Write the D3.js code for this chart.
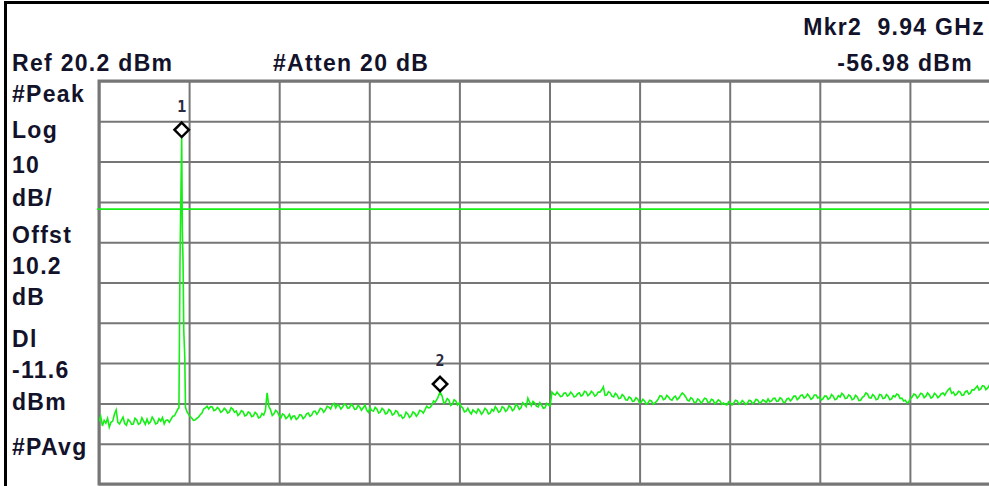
<!DOCTYPE html>
<html><head><meta charset="utf-8">
<script src="https://cdn.jsdelivr.net/npm/d3@7"></script>
<style>
html,body{margin:0;padding:0;background:#fff;overflow:hidden}
svg{display:block}
text.lab{font-family:Arial,"Liberation Sans",sans-serif;font-weight:bold;font-size:23px;letter-spacing:1.3px;fill:#12122a;white-space:pre}
text.mk{font-family:"DejaVu Sans Mono","Liberation Mono",monospace;font-weight:bold;font-size:15px;fill:#2a2a40}
</style></head><body>
<svg id="c" width="989" height="486"></svg>
<script>
// ---- data ----
const refLevelDbm = 20.2;
const dbPerDiv = 10;
const yDivisions = 10;
const xDivisions = 10;
const startGHz = 0;
const stopGHz = 26.26;
const displayLineDbm = -11.6;

const headerTopRight = "Mkr2  9.94 GHz";
const headerRow = ["Ref 20.2 dBm", "#Atten 20 dB", "-56.98 dBm"];
const sideLabels = ["#Peak", "Log", "10", "dB/", "Offst", "10.2", "dB", "Dl", "-11.6", "dBm", "#PAvg"];

const markerIds = ["1", "2"];
const markerGHz = [2.41, 9.94];
const markerDbm = [6.1, -56.98];

// trace: [frequency GHz, level dBm]
const trace = [
[0.0,-64.2],[0.05,-63.0],[0.1,-65.4],[0.15,-64.0],[0.2,-64.7],[0.25,-63.5],[0.3,-65.7],[0.35,-64.5],[0.4,-64.2],[0.45,-62.5],
[0.5,-61.4],[0.55,-64.5],[0.6,-64.9],[0.65,-64.0],[0.7,-63.2],[0.75,-64.8],[0.8,-65.2],[0.85,-63.8],[0.9,-64.2],[0.95,-65.0],
[1.0,-64.9],[1.05,-63.5],[1.1,-63.9],[1.15,-65.0],[1.2,-64.7],[1.25,-63.4],[1.3,-64.2],[1.35,-65.0],[1.4,-63.7],[1.45,-64.8],
[1.5,-64.4],[1.55,-63.2],[1.6,-63.9],[1.65,-64.9],[1.7,-64.7],[1.75,-63.6],[1.8,-64.2],[1.85,-63.3],[1.9,-64.9],[1.95,-64.0],
[2.0,-63.9],[2.05,-64.5],[2.1,-63.7],[2.15,-63.0],[2.2,-62.9],[2.25,-62.0],[2.3,-61.2],[2.33,-60.9],[2.36,-25.0],[2.41,6.1],
[2.43,-17.3],[2.45,-24.7],[2.47,-41.6],[2.50,-48.3],[2.52,-60.7],[2.56,-61.8],
[2.6,-62.4],[2.65,-63.0],[2.7,-63.4],[2.75,-64.0],[2.8,-63.9],[2.85,-63.5],[2.9,-63.2],[2.95,-62.6],[3.0,-62.2],[3.05,-61.2],
[3.1,-60.9],[3.15,-60.5],[3.2,-61.2],[3.25,-60.6],[3.3,-60.7],[3.35,-61.6],[3.4,-61.4],[3.45,-60.8],[3.5,-61.2],[3.55,-62.0],
[3.6,-61.7],[3.65,-61.0],[3.7,-61.4],[3.75,-62.2],[3.8,-61.9],[3.85,-60.9],[3.9,-61.2],[3.95,-62.0],[4.0,-61.7],[4.05,-62.8],
[4.1,-62.4],[4.15,-61.6],[4.2,-61.9],[4.25,-62.9],[4.3,-62.7],[4.35,-61.9],[4.4,-62.2],[4.45,-63.1],[4.5,-62.9],[4.55,-62.0],
[4.6,-62.4],[4.65,-63.4],[4.7,-63.2],[4.75,-62.3],[4.8,-62.7],[4.85,-61.5],[4.9,-57.2],[4.95,-60.5],[5.0,-61.4],[5.05,-62.8],
[5.1,-62.4],[5.15,-61.5],[5.2,-61.9],[5.25,-62.8],[5.3,-63.4],[5.35,-62.4],[5.4,-62.7],[5.45,-63.6],[5.5,-63.2],[5.55,-62.5],
[5.6,-63.7],[5.65,-63.0],[5.7,-62.9],[5.75,-63.8],[5.8,-63.4],[5.85,-62.6],[5.9,-62.7],[5.95,-63.6],[6.0,-63.2],[6.05,-62.4],
[6.1,-62.2],[6.15,-63.0],[6.2,-62.7],[6.25,-61.8],[6.3,-61.7],[6.35,-62.5],[6.4,-61.9],[6.45,-61.0],[6.5,-61.2],[6.55,-62.0],
[6.6,-61.4],[6.65,-60.5],[6.7,-60.7],[6.75,-61.2],[6.8,-60.2],[6.85,-59.8],[6.9,-60.9],[6.95,-60.1],[7.0,-60.4],[7.05,-61.2],
[7.1,-60.7],[7.15,-59.9],[7.2,-60.2],[7.25,-61.0],[7.3,-60.9],[7.35,-60.0],[7.4,-60.4],[7.45,-61.3],[7.5,-61.2],[7.55,-60.3],
[7.6,-60.7],[7.65,-61.5],[7.7,-60.9],[7.75,-60.2],[7.8,-61.4],[7.85,-62.0],[7.9,-60.9],[7.95,-61.6],[8.0,-61.7],[8.05,-60.8],
[8.1,-61.2],[8.15,-62.2],[8.2,-61.9],[8.25,-61.0],[8.3,-61.4],[8.35,-62.4],[8.4,-62.2],[8.45,-61.3],[8.5,-61.7],[8.55,-62.7],
[8.6,-62.4],[8.65,-61.6],[8.7,-61.9],[8.75,-62.9],[8.8,-62.7],[8.85,-63.5],[8.9,-63.2],[8.95,-62.0],[9.0,-62.4],[9.05,-63.3],
[9.1,-62.9],[9.15,-61.9],[9.2,-62.2],[9.25,-63.0],[9.3,-62.4],[9.35,-61.5],[9.4,-61.7],[9.45,-62.2],[9.5,-61.4],[9.55,-60.5],
[9.6,-60.9],[9.65,-60.8],[9.7,-60.2],[9.75,-59.2],[9.8,-59.5],[9.87,-58.5],[9.94,-56.98],[10.0,-58.0],[10.05,-59.8],[10.1,-59.5],
[10.15,-58.6],[10.2,-59.0],[10.25,-60.3],[10.3,-60.0],[10.35,-58.9],[10.4,-59.2],[10.45,-60.2],[10.5,-59.7],[10.55,-60.5],[10.6,-60.9],
[10.65,-61.9],[10.7,-61.7],[10.75,-61.0],[10.8,-61.9],[10.85,-62.4],[10.9,-61.4],[10.95,-61.8],[11.0,-62.2],[11.05,-61.2],[11.1,-61.7],
[11.15,-62.5],[11.2,-61.9],[11.25,-61.0],[11.3,-61.4],[11.35,-62.4],[11.4,-62.2],[11.45,-61.3],[11.5,-61.7],[11.55,-60.6],[11.6,-61.2],
[11.65,-62.0],[11.7,-61.7],[11.75,-60.6],[11.8,-60.9],[11.85,-61.8],[11.9,-61.4],[11.95,-60.4],[12.0,-60.7],[12.05,-61.6],[12.1,-61.2],
[12.15,-60.0],[12.2,-60.4],[12.25,-61.3],[12.3,-60.9],[12.35,-59.6],[12.4,-60.0],[12.45,-60.6],[12.5,-58.5],[12.55,-59.5],[12.6,-60.4],
[12.65,-59.3],[12.7,-59.7],[12.75,-60.5],[12.8,-60.7],[12.85,-59.6],[12.9,-60.2],[12.95,-61.0],[13.0,-60.9],[13.05,-59.8],[13.1,-60.2],
[13.15,-60.4],[13.2,-57.0],[13.25,-57.5],[13.3,-57.7],[13.35,-57.0],[13.4,-57.5],[13.45,-58.1],[13.5,-58.0],[13.55,-57.3],[13.6,-57.2],
[13.65,-58.0],[13.7,-57.7],[13.75,-57.0],[13.8,-57.5],[13.85,-58.2],[13.9,-58.0],[13.95,-57.4],[14.0,-57.2],[14.05,-58.0],[14.1,-57.7],
[14.15,-56.8],[14.2,-57.0],[14.25,-57.9],[14.3,-57.5],[14.35,-56.8],[14.4,-57.2],[14.45,-58.0],[14.5,-57.7],[14.55,-57.0],[14.6,-57.0],
[14.65,-56.5],[14.7,-55.7],[14.75,-57.8],[14.8,-57.7],[14.85,-56.9],[14.9,-57.2],[14.95,-58.0],[15.0,-58.2],[15.05,-57.3],[15.1,-57.7],
[15.15,-58.6],[15.2,-58.5],[15.25,-57.6],[15.3,-58.0],[15.35,-58.9],[15.4,-59.0],[15.45,-58.2],[15.5,-58.5],[15.55,-59.3],[15.6,-59.2],
[15.65,-58.4],[15.7,-58.7],[15.75,-59.6],[15.8,-59.5],[15.85,-58.8],[15.9,-59.2],[15.95,-60.0],[16.0,-59.7],[16.05,-59.0],[16.1,-59.2],
[16.15,-60.0],[16.2,-59.7],[16.25,-59.3],[16.3,-58.7],[16.35,-57.9],[16.4,-58.0],[16.45,-58.9],[16.5,-58.7],[16.55,-57.8],[16.6,-58.2],
[16.65,-58.8],[16.7,-59.0],[16.75,-58.3],[16.8,-58.0],[16.85,-58.9],[16.9,-58.5],[16.95,-57.8],[17.0,-57.2],[17.05,-57.6],[17.1,-58.2],
[17.15,-59.0],[17.2,-59.2],[17.25,-58.4],[17.3,-58.7],[17.35,-59.6],[17.4,-59.5],[17.45,-58.7],[17.5,-59.0],[17.55,-59.8],[17.6,-59.2],
[17.65,-58.5],[17.7,-58.7],[17.75,-59.6],[17.8,-59.5],[17.85,-58.8],[17.9,-59.0],[17.95,-59.9],[18.0,-59.5],[18.05,-58.9],[18.1,-59.2],
[18.15,-60.0],[18.2,-59.7],[18.25,-60.0],[18.3,-60.2],[18.35,-59.4],[18.4,-59.7],[18.45,-60.2],[18.5,-59.7],[18.55,-59.0],[18.6,-59.2],
[18.65,-60.0],[18.7,-59.7],[18.75,-59.1],[18.8,-59.5],[18.85,-60.1],[18.9,-59.7],[18.95,-59.0],[19.0,-59.2],[19.05,-59.9],[19.1,-59.5],
[19.15,-58.8],[19.2,-59.0],[19.25,-59.8],[19.3,-59.5],[19.35,-58.9],[19.4,-59.2],[19.45,-59.6],[19.5,-58.7],[19.55,-59.4],[19.6,-59.2],
[19.65,-58.6],[19.7,-58.5],[19.75,-59.3],[19.8,-59.2],[19.85,-58.4],[19.9,-58.7],[19.95,-59.6],[20.0,-59.5],[20.05,-58.7],[20.1,-58.5],
[20.15,-59.2],[20.2,-58.7],[20.25,-58.0],[20.3,-58.0],[20.35,-58.9],[20.4,-58.5],[20.45,-57.8],[20.5,-57.7],[20.55,-58.5],[20.6,-58.2],
[20.65,-57.5],[20.7,-58.0],[20.75,-58.8],[20.8,-58.5],[20.85,-57.7],[20.9,-57.7],[20.95,-58.5],[21.0,-58.2],[21.05,-59.0],[21.1,-58.7],
[21.15,-58.0],[21.2,-58.0],[21.25,-58.8],[21.3,-58.5],[21.35,-57.6],[21.4,-58.0],[21.45,-58.9],[21.5,-58.7],[21.55,-57.9],[21.6,-58.2],
[21.65,-57.3],[21.7,-57.7],[21.75,-58.6],[21.8,-58.5],[21.85,-57.7],[21.9,-58.0],[21.95,-58.9],[22.0,-58.7],[22.05,-57.8],[22.1,-58.2],
[22.15,-59.1],[22.2,-59.0],[22.25,-58.3],[22.3,-58.0],[22.35,-57.2],[22.4,-57.5],[22.45,-58.4],[22.5,-58.5],[22.55,-57.6],[22.6,-58.0],
[22.65,-58.9],[22.7,-58.7],[22.75,-57.6],[22.8,-57.7],[22.85,-58.6],[22.9,-58.5],[22.95,-57.6],[23.0,-58.0],[23.05,-58.9],[23.1,-58.7],
[23.15,-57.9],[23.2,-58.2],[23.25,-57.5],[23.3,-57.7],[23.35,-58.6],[23.4,-58.5],[23.45,-59.2],[23.5,-59.0],[23.55,-59.7],[23.6,-59.5],
[23.65,-58.6],[23.7,-58.2],[23.75,-57.5],[23.8,-57.7],[23.85,-58.5],[23.9,-58.0],[23.95,-57.3],[24.0,-57.5],[24.05,-58.4],[24.1,-58.0],
[24.15,-57.2],[24.2,-57.7],[24.25,-58.5],[24.3,-58.2],[24.35,-57.3],[24.4,-57.7],[24.45,-58.4],[24.5,-58.0],[24.55,-57.4],[24.6,-57.2],
[24.65,-57.8],[24.7,-57.0],[24.75,-56.4],[24.8,-56.0],[24.85,-57.3],[24.9,-57.0],[24.95,-57.8],[25.0,-57.5],[25.05,-56.8],[25.1,-57.0],
[25.15,-57.8],[25.2,-57.7],[25.25,-56.9],[25.3,-56.7],[25.35,-57.5],[25.4,-57.2],[25.45,-56.4],[25.5,-56.5],[25.55,-56.0],[25.6,-55.5],
[25.65,-56.5],[25.7,-56.2],[25.75,-55.4],[25.8,-55.5],[25.85,-56.4],[25.9,-56.0],[25.95,-55.3],[26.0,-55.2],[26.05,-56.0],[26.1,-55.7],
[26.15,-55.0],[26.2,-55.5],[26.25,-56.0]
];

// ---- layout ----
const P = {left: 99, top: 81, right: 1000, bottom: 484};
const svg = d3.select("#c");
const gridColor = "#767676";
const traceColor = "#14f014";

const x = d3.scaleLinear().domain([startGHz, stopGHz]).range([P.left, P.right]);
const y = d3.scaleLinear().domain([refLevelDbm - dbPerDiv * yDivisions, refLevelDbm]).range([P.bottom, P.top]);

// outer black border
svg.append("rect").attr("x", 5.5).attr("y", 2.5).attr("width", 1200).attr("height", 800)
  .attr("fill", "#fff").attr("stroke", "#000").attr("stroke-width", 3);

// grid via axes
const xTicks = d3.range(xDivisions + 1).map(i => startGHz + i * (stopGHz - startGHz) / xDivisions);
const yTicks = d3.range(yDivisions + 1).map(i => refLevelDbm - i * dbPerDiv);
const gx = svg.append("g").attr("transform", `translate(0,${P.bottom})`)
  .call(d3.axisBottom(x).tickValues(xTicks).tickSize(-(P.bottom - P.top)).tickFormat(""));
const gy = svg.append("g").attr("transform", `translate(${P.left},0)`)
  .call(d3.axisLeft(y).tickValues(yTicks).tickSize(-(P.right - P.left)).tickFormat(""));
[gx, gy].forEach(g => {
  g.select(".domain").remove();
  g.selectAll(".tick line").attr("stroke", gridColor).attr("stroke-width", 2);
});
svg.append("rect").attr("x", P.left).attr("y", P.top).attr("width", P.right - P.left).attr("height", P.bottom - P.top)
  .attr("fill", "none").attr("stroke", gridColor).attr("stroke-width", 3);

// clip
svg.append("clipPath").attr("id", "pc").append("rect")
  .attr("x", P.left).attr("y", P.top).attr("width", P.right - P.left).attr("height", P.bottom - P.top);

// display line
svg.append("line").attr("x1", x(startGHz) - 2).attr("x2", x(stopGHz)).attr("y1", y(displayLineDbm)).attr("y2", y(displayLineDbm))
  .attr("stroke", traceColor).attr("stroke-width", 1.6);

// trace
svg.append("path").datum(trace).attr("clip-path", "url(#pc)")
  .attr("d", d3.line().x(d => x(d[0])).y(d => y(d[1])))
  .attr("fill", "none").attr("stroke", traceColor).attr("stroke-width", 1.6).attr("stroke-linejoin", "miter");

// markers
const mk = svg.append("g");
markerIds.forEach((id, i) => {
  const mx = x(markerGHz[i]), my = y(markerDbm[i]) - 8;
  const s = 7.2;
  mk.append("path").attr("d", `M${mx},${my - s}L${mx + s},${my}L${mx},${my + s}L${mx - s},${my}Z`)
    .attr("fill", "#fff").attr("stroke", "#000").attr("stroke-width", 2.5);
  mk.append("text").attr("class", "mk").attr("x", mx).attr("y", my - 18).attr("text-anchor", "middle").text(id);
});

// header texts
svg.append("text").attr("class", "lab").attr("x", 985).attr("y", 35).attr("text-anchor", "end").text(headerTopRight);
const headerX = [12, 273, 973];
const headerAnchor = ["start", "start", "end"];
headerRow.forEach((t, i) => {
  svg.append("text").attr("class", "lab").attr("x", headerX[i]).attr("y", 71).attr("text-anchor", headerAnchor[i]).text(t);
});

// side labels
const sideBaselines = [102, 138, 173, 206, 243, 274, 305, 347, 378, 410, 455];
sideLabels.forEach((t, i) => {
  svg.append("text").attr("class", "lab").attr("x", 12).attr("y", sideBaselines[i]).text(t);
});
</script>
</body></html>
